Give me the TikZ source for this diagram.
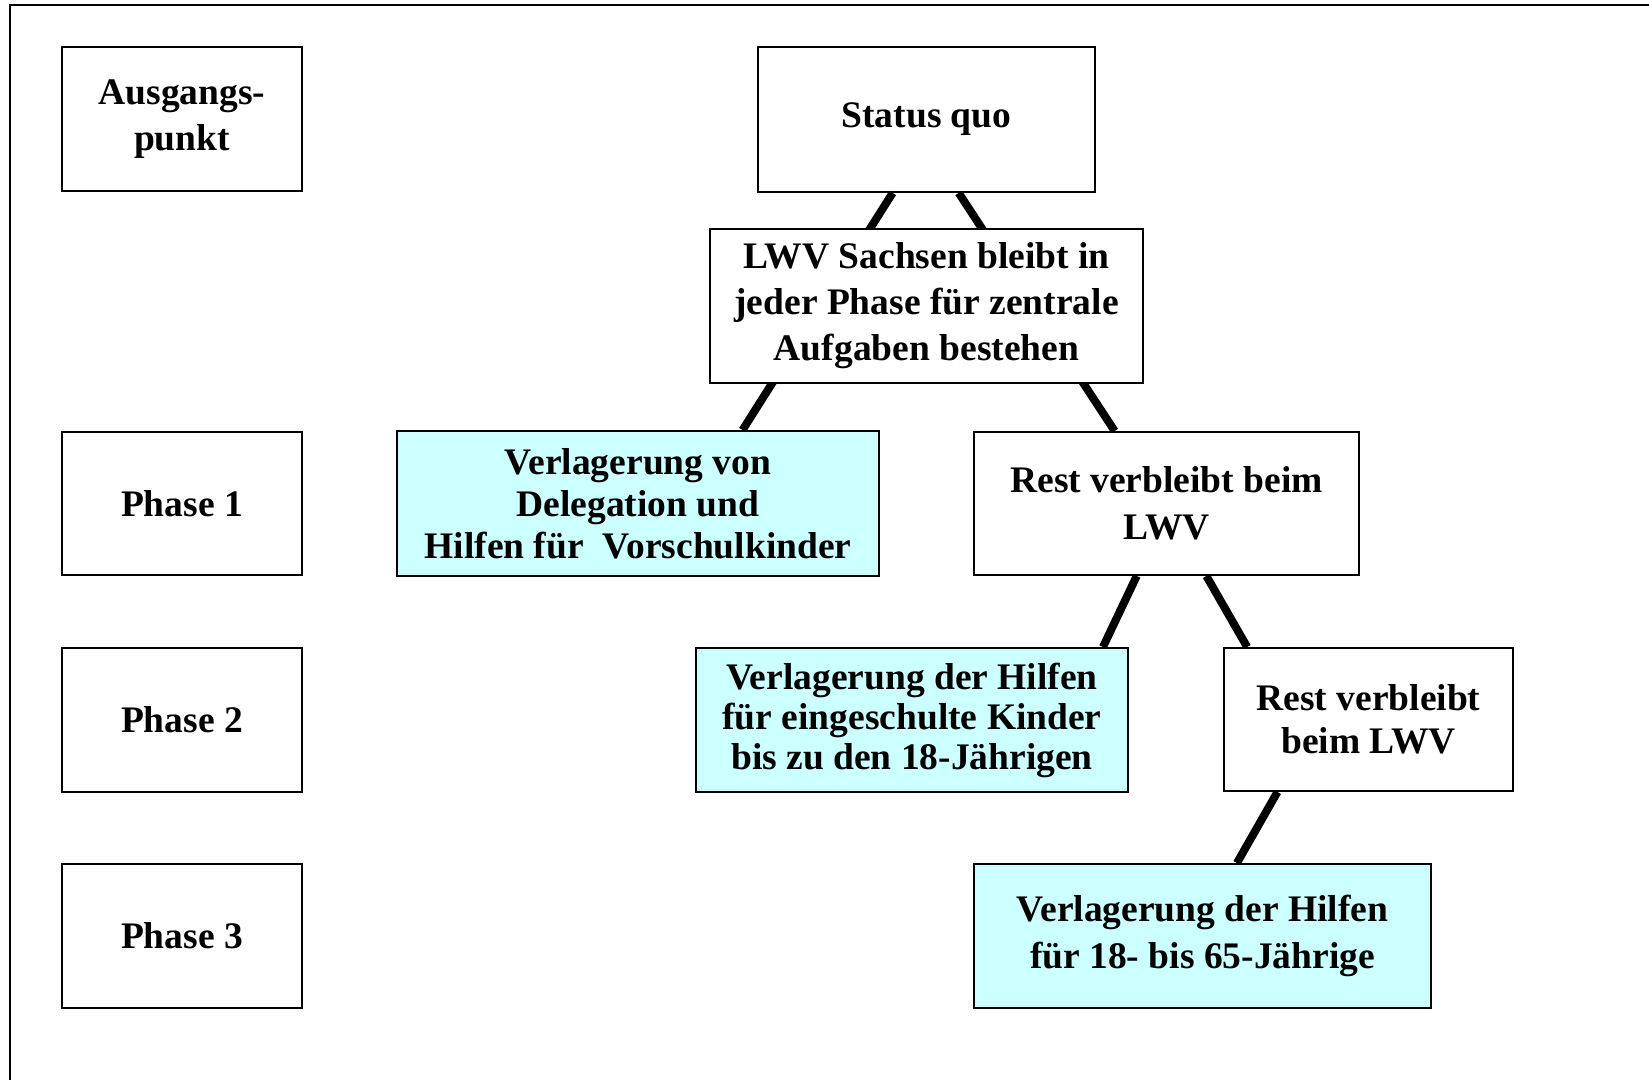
\documentclass[tikz,border=0pt]{standalone}
\usepackage{fontspec}
\setmainfont{Liberation Serif}
\usetikzlibrary{calc}
\definecolor{lightcyan}{RGB}{204,255,255}
\tikzset{
  box/.style={draw, line width=1pt, inner sep=0pt, align=center, fill=white,
    font=\bfseries\fontsize{18.75}{23}\selectfont},
  cbox/.style={box, fill=lightcyan},
  conn/.style={line width=4pt}
}
\begin{document}
\begin{tikzpicture}[x=0.5pt,y=-0.5pt]
\useasboundingbox (0,0) rectangle (1649,1080);
\draw[line width=1pt] (10,1080) -- (10,5) -- (1649,5);

\node[box, minimum width=120pt, minimum height=72pt] (aus) at (182,119) {Ausgangs-\\punkt};
\node[box, minimum width=120pt, minimum height=71.5pt] (p1) at (182,503.5) {Phase 1};
\node[box, minimum width=120pt, minimum height=72pt] (p2) at (182,720) {Phase 2};
\node[box, minimum width=120pt, minimum height=72pt] (p3) at (182,936) {Phase 3};

\node[box, minimum width=168.5pt, minimum height=72.5pt] (sq) at (926.5,119.5) {Status quo};
\node[cbox, minimum width=241pt, minimum height=72.5pt,
  font=\bfseries\fontsize{18.75}{21}\selectfont] (v1) at (638,503.5)
  {Verlagerung von\\Delegation und\\Hilfen für\ \ Vorschulkinder};
\node[box, minimum width=192.5pt, minimum height=71.5pt,
  font=\bfseries\fontsize{18.75}{23.5}\selectfont] (r1) at (1166.5,503.5)
  {Rest verbleibt beim\\LWV};
\node[cbox, minimum width=216pt, minimum height=72pt,
  font=\bfseries\fontsize{18.75}{20}\selectfont] (v2) at (912,720)
  {Verlagerung der Hilfen\\für eingeschulte Kinder\\bis zu den 18-Jährigen};
\node[box, minimum width=144.5pt, minimum height=71.5pt,
  font=\bfseries\fontsize{18.75}{21.5}\selectfont] (r2) at (1368.5,719.5)
  {Rest verbleibt\\beim LWV};
\node[cbox, minimum width=228.5pt, minimum height=72pt,
  font=\bfseries\fontsize{18.75}{23.5}\selectfont] (v3) at (1202.5,936)
  {Verlagerung der Hilfen\\für 18- bis 65-Jährige};

\draw[conn] ($(sq.south west)!0.40!(sq.south east)$) -- ($(v1.north west)!0.716!(v1.north east)$);
\draw[conn] ($(sq.south west)!0.595!(sq.south east)$) -- ($(r1.north west)!0.366!(r1.north east)$);
\draw[conn] ($(r1.south west)!0.423!(r1.south east)$) -- ($(v2.north west)!0.94!(v2.north east)$);
\draw[conn] ($(r1.south west)!0.603!(r1.south east)$) -- ($(r2.north west)!0.083!(r2.north east)$);
\draw[conn] ($(r2.south west)!0.187!(r2.south east)$) -- ($(v3.north west)!0.575!(v3.north east)$);

\node[box, minimum width=216.5pt, minimum height=77pt] (lwv) at (926.5,306)
  {LWV Sachsen bleibt in\\jeder Phase für zentrale\\Aufgaben bestehen};
\end{tikzpicture}
\end{document}
